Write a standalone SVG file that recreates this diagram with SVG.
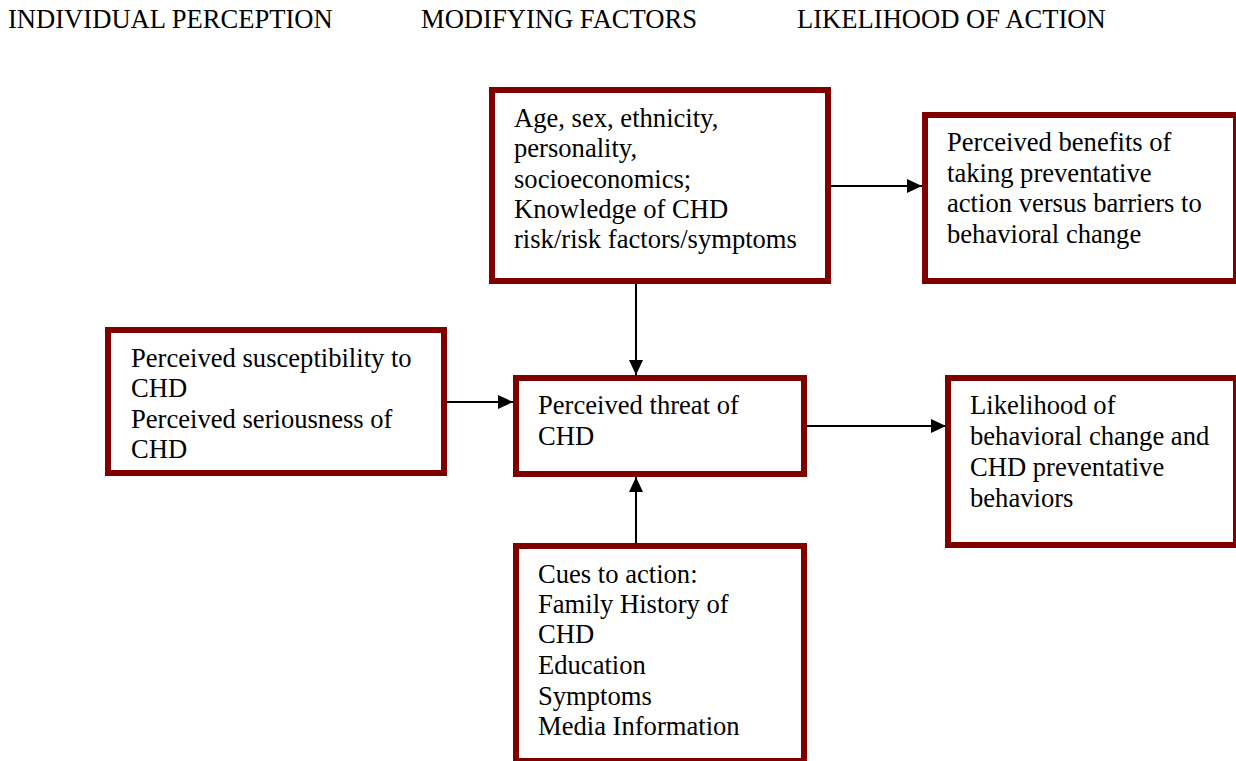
<svg xmlns="http://www.w3.org/2000/svg" width="1236" height="761" viewBox="0 0 1236 761">
<style>
text{font-family:"Liberation Serif","Times New Roman",serif;font-size:26.6px;fill:#000}
.box{fill:#fff;stroke:#800000;stroke-width:6}
.conn{stroke:#000;stroke-width:2;fill:none}
</style>
<defs>
<marker id="arr" viewBox="0 0 15 14" refX="15" refY="7" markerWidth="15" markerHeight="14" markerUnits="userSpaceOnUse" orient="auto">
<path d="M0,0 L15,7 L0,14 Z" fill="#000"/>
</marker>
</defs>
<rect width="1236" height="761" fill="#fff"/>
<g id="headers">
<text x="8" y="28">INDIVIDUAL PERCEPTION</text>
<text x="421" y="28">MODIFYING FACTORS</text>
<text x="797" y="28">LIKELIHOOD OF ACTION</text>
</g>
<g id="connectors">
<line class="conn" x1="831" y1="186" x2="922" y2="186" marker-end="url(#arr)"/>
<line class="conn" x1="636" y1="284" x2="636" y2="375" marker-end="url(#arr)"/>
<line class="conn" x1="447" y1="402" x2="513" y2="402" marker-end="url(#arr)"/>
<line class="conn" x1="807" y1="426" x2="946" y2="426" marker-end="url(#arr)"/>
<line class="conn" x1="636" y1="543" x2="636" y2="477" marker-end="url(#arr)"/>
</g>
<g id="modifying">
<rect class="box" x="492" y="90" width="336" height="191"/>
<text x="514" y="127">Age, sex, ethnicity,</text>
<text x="514" y="157">personality,</text>
<text x="514" y="188">socioeconomics;</text>
<text x="514" y="218">Knowledge of CHD</text>
<text x="514" y="248">risk/risk factors/symptoms</text>
</g>
<g id="benefits">
<rect class="box" x="925" y="115" width="311" height="166"/>
<text x="947" y="151">Perceived benefits of</text>
<text x="947" y="182">taking preventative</text>
<text x="947" y="212">action versus barriers to</text>
<text x="947" y="243">behavioral change</text>
</g>
<g id="perception">
<rect class="box" x="108" y="330" width="336" height="143"/>
<text x="131" y="367">Perceived susceptibility to</text>
<text x="131" y="397">CHD</text>
<text x="131" y="428">Perceived seriousness of</text>
<text x="131" y="458">CHD</text>
</g>
<g id="threat">
<rect class="box" x="516" y="378" width="288" height="96"/>
<text x="538" y="414">Perceived threat of</text>
<text x="538" y="445">CHD</text>
</g>
<g id="likelihood">
<rect class="box" x="948" y="378" width="288" height="167"/>
<text x="970" y="414">Likelihood of</text>
<text x="970" y="445">behavioral change and</text>
<text x="970" y="476">CHD preventative</text>
<text x="970" y="507">behaviors</text>
</g>
<g id="cues">
<rect class="box" x="516" y="546" width="288" height="215"/>
<text x="538" y="583">Cues to action:</text>
<text x="538" y="613">Family History of</text>
<text x="538" y="643">CHD</text>
<text x="538" y="674">Education</text>
<text x="538" y="705">Symptoms</text>
<text x="538" y="735">Media Information</text>
</g>
</svg>
